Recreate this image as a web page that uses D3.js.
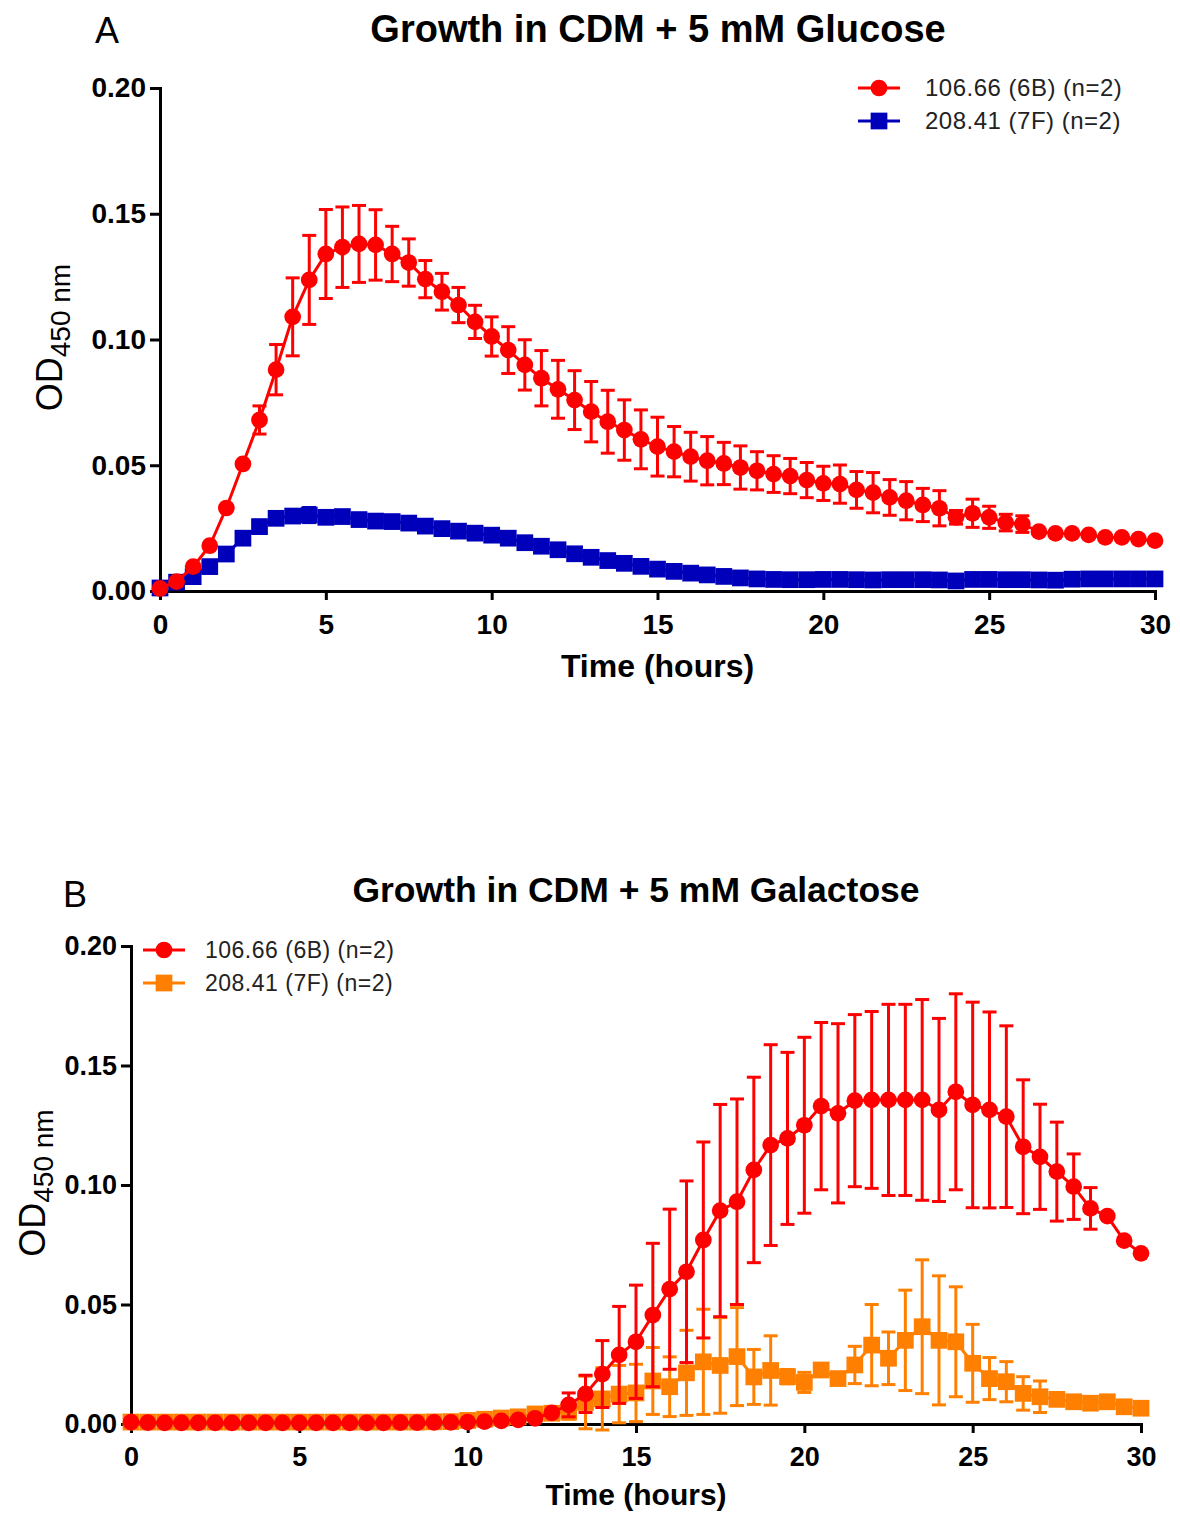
<!DOCTYPE html>
<html>
<head>
<meta charset="utf-8">
<script src="https://cdn.jsdelivr.net/npm/d3@7"></script>
<style>
  body { margin: 0; background: #fff; }
  text { font-family: "Liberation Sans", Arial, sans-serif; }
  .axis text { font-weight: bold; fill: #000; }
  .axis path, .axis line { stroke: #000; stroke-width: 3; }
</style>
</head>
<body>
<script>
// sampling times (hours)
const hours = [0,0.5,1,1.5,2,2.5,3,3.5,4,4.5,5,5.5,6,6.5,7,7.5,8,8.5,9,9.5,
  10,10.5,11,11.5,12,12.5,13,13.5,14,14.5,15,15.5,16,16.5,17,17.5,18,18.5,19,19.5,
  20,20.5,21,21.5,22,22.5,23,23.5,24,24.5,25,25.5,26,26.5,27,27.5,28,28.5,29,29.5,30];

const xTicks = [0,5,10,15,20,25,30];
const yTicks = [0,0.05,0.10,0.15,0.20];

const seriesNames = ["106.66 (6B) (n=2)", "208.41 (7F) (n=2)"];

// Panel A - glucose
const glc6B = [0.001,0.0037,0.0097,0.018,0.033,0.0505,0.068,0.088,0.109,0.1237,
  0.134,0.1367,0.138,0.1376,0.134,0.1306,0.124,0.119,0.1137,0.107,
  0.1012,0.0958,0.0899,0.0846,0.0802,0.0759,0.0713,0.0673,0.064,0.0603,
  0.0574,0.0554,0.0534,0.0518,0.0507,0.0491,0.0478,0.0465,0.0457,0.0441,
  0.0428,0.0425,0.0402,0.0391,0.0372,0.0359,0.0342,0.0329,0.0293,0.0309,
  0.0293,0.0272,0.0266,0.0236,0.0229,0.0229,0.0223,0.0213,0.0213,0.0206,0.02];
const glc6Bsd = [0,0,0,0,0,0,0.0056,0.010,0.0155,0.0177,
  0.0177,0.016,0.0153,0.014,0.011,0.0094,0.0074,0.0073,0.007,0.0066,
  0.0078,0.0093,0.010,0.011,0.0115,0.0117,0.012,0.0125,0.012,0.0117,
  0.0117,0.010,0.0097,0.0096,0.0084,0.0086,0.0076,0.0073,0.007,0.007,
  0.0068,0.0076,0.0073,0.008,0.0071,0.0076,0.0066,0.007,0.0027,0.0056,
  0.0044,0.0033,0.0033,0,0,0,0,0,0,0,0];
const glc7F = [0.0012,0.0035,0.0057,0.0097,0.0147,0.021,0.0256,0.0289,0.0298,0.0302,
  0.0293,0.0296,0.0284,0.0278,0.0276,0.027,0.0258,0.0248,0.0238,0.023,
  0.0222,0.021,0.0192,0.0178,0.0164,0.0148,0.0134,0.0121,0.011,0.0098,
  0.0087,0.0078,0.0071,0.0064,0.0058,0.0052,0.0048,0.0046,0.0045,0.0045,
  0.0046,0.0046,0.0045,0.0044,0.0045,0.0045,0.0045,0.0044,0.004,0.0046,
  0.0046,0.0045,0.0045,0.0044,0.0043,0.0047,0.0048,0.0048,0.0048,0.0048,0.0048];
const glc7Fsd = [0,0,0,0,0,0,0.0025,0.002,0.002,0.003,
  0.002,0,0,0,0,0,0,0,0,0,
  0,0,0,0,0,0,0,0,0,0,
  0,0,0,0,0,0,0,0,0,0,
  0,0,0,0,0,0,0,0,0,0,
  0,0,0,0,0,0,0,0,0,0,0];

// Panel B - galactose
const gal6B = [0.0008,0.0006,0.0005,0.0005,0.0005,0.0005,0.0005,0.0005,0.0005,0.0005,
  0.0005,0.0005,0.0005,0.0005,0.0005,0.0005,0.0006,0.0006,0.0007,0.0007,
  0.0008,0.001,0.0013,0.0017,0.0024,0.0047,0.008,0.0126,0.0209,0.0289,
  0.0344,0.0456,0.0564,0.0637,0.077,0.0893,0.093,0.1063,0.1167,0.1195,
  0.125,0.133,0.130,0.1353,0.1356,0.1356,0.1356,0.1356,0.1314,0.139,
  0.1335,0.1314,0.1286,0.116,0.1118,0.1056,0.0993,0.0902,0.087,0.0767,0.0714];
const gal6Bsd = [0,0,0,0,0,0,0,0,0,0,
  0,0,0,0,0,0,0,0,0,0,
  0,0,0,0,0,0,0.005,0.0078,0.014,0.0203,
  0.0237,0.030,0.0335,0.038,0.041,0.0444,0.043,0.0388,0.042,0.036,
  0.0368,0.035,0.0375,0.036,0.037,0.040,0.040,0.042,0.0383,0.041,
  0.043,0.041,0.038,0.028,0.022,0.0207,0.0137,0.0087,0,0,0];
const gal7F = [0.0008,0.0008,0.0008,0.0008,0.0008,0.0008,0.0008,0.0008,0.0008,0.0008,
  0.0008,0.0008,0.0008,0.0008,0.0008,0.0008,0.0008,0.0008,0.0009,0.001,
  0.0015,0.002,0.0025,0.003,0.0042,0.0045,0.005,0.009,0.0105,0.0125,
  0.013,0.018,0.0156,0.0214,0.026,0.0245,0.0282,0.0197,0.0224,0.0198,
  0.0174,0.0226,0.019,0.0247,0.033,0.0275,0.035,0.0407,0.035,0.0344,
  0.0254,0.019,0.0177,0.0128,0.0114,0.0103,0.0093,0.0087,0.0093,0.0072,0.0066];
const gal7Fsd = [0,0,0,0,0,0,0,0,0,0,
  0,0,0,0,0,0,0,0,0,0,
  0,0,0,0,0,0,0.003,0.011,0.013,0.012,
  0.012,0.014,0.0125,0.0178,0.022,0.02,0.0205,0.0115,0.0145,0.003,
  0.0042,0,0.002,0.0078,0.017,0.011,0.021,0.028,0.027,0.023,
  0.0163,0.0088,0.0084,0.007,0.0066,0,0,0,0,0,0];

let svg = null;

appendSvg("body");

drawPanel({
  letter: "A", letterX: 95, letterY: 43,
  title: "Growth in CDM + 5 mM Glucose", titleSize: 38, titleX: 658, titleY: 42,
  left: 160, right: 1155, top: 88, bottom: 591,
  tickSize: 28, labelSize: 32, labelY: 677, ylabX: 62,
  legendX: 858, legendY: 88, legendText: 925, legendSize: 24,
  series: [
    {mean: glc6B, sd: glc6Bsd, color: "#ff0000", shape: "circle"},
    {mean: glc7F, sd: glc7Fsd, color: "#0000bb", shape: "square"}
  ]
});

drawPanel({
  letter: "B", letterX: 63, letterY: 907,
  title: "Growth in CDM + 5 mM Galactose", titleSize: 35.5, titleX: 636, titleY: 902,
  left: 131, right: 1141, top: 946, bottom: 1424,
  tickSize: 27, labelSize: 30, labelY: 1505, ylabX: 45,
  legendX: 143, legendY: 950, legendText: 205, legendSize: 23,
  series: [
    {mean: gal6B, sd: gal6Bsd, color: "#ff0000", shape: "circle"},
    {mean: gal7F, sd: gal7Fsd, color: "#ff8000", shape: "square"}
  ]
});

function appendSvg(domElement) {
  svg = d3.select(domElement).append("svg")
    .attr("width", 1180)
    .attr("height", 1513);
}

function markerPath(shape) {
  if (shape == "circle") return d3.symbol(d3.symbolCircle, 220)();
  return d3.symbol(d3.symbolSquare, 280)();
}

function drawPanel(p) {
  let g = svg.append("g");

  let x = d3.scaleLinear().domain([0, 30]).range([p.left, p.right]);
  let y = d3.scaleLinear().domain([0, 0.2]).range([p.bottom, p.top]);

  // axes
  g.append("g")
    .attr("class", "axis")
    .attr("transform", `translate(0, ${p.bottom})`)
    .call(d3.axisBottom(x).tickValues(xTicks).tickSize(9).tickSizeOuter(0).tickPadding(14))
    .selectAll("text").style("font-size", p.tickSize + "px");

  g.append("g")
    .attr("class", "axis")
    .attr("transform", `translate(${p.left}, 0)`)
    .call(d3.axisLeft(y).tickValues(yTicks).tickFormat(d3.format(".2f"))
      .tickSize(10).tickSizeOuter(0).tickPadding(4))
    .selectAll("text").style("font-size", p.tickSize + "px");

  g.selectAll(".axis .domain").attr("stroke-linecap", "square");

  // series, second one first so the red sits on top
  p.series.slice().reverse().forEach(function (s) {
    let pts = hours.map((h, i) => ({h: h, m: s.mean[i], sd: s.sd[i]}));
    let bars = pts.filter(d => d.sd > 0);
    let eb = g.append("g").attr("stroke", s.color).attr("stroke-width", 3).attr("fill", "none");

    eb.selectAll(".stem").data(bars).enter().append("line")
      .attr("x1", d => x(d.h)).attr("x2", d => x(d.h))
      .attr("y1", d => y(d.m - d.sd)).attr("y2", d => y(d.m + d.sd));
    eb.selectAll(".capTop").data(bars).enter().append("line")
      .attr("x1", d => x(d.h) - 7).attr("x2", d => x(d.h) + 7)
      .attr("y1", d => y(d.m + d.sd)).attr("y2", d => y(d.m + d.sd));
    eb.selectAll(".capBot").data(bars).enter().append("line")
      .attr("x1", d => x(d.h) - 7).attr("x2", d => x(d.h) + 7)
      .attr("y1", d => y(d.m - d.sd)).attr("y2", d => y(d.m - d.sd));

    let line = d3.line().x(d => x(d.h)).y(d => y(d.m));
    g.append("path").datum(pts)
      .attr("d", line)
      .attr("fill", "none")
      .attr("stroke", s.color)
      .attr("stroke-width", 3);

    g.append("g").selectAll("path").data(pts).enter().append("path")
      .attr("d", markerPath(s.shape))
      .attr("transform", d => `translate(${x(d.h)}, ${y(d.m)})`)
      .attr("fill", s.color);
  });

  // legend
  p.series.forEach(function (s, i) {
    let ly = p.legendY + i * 33;
    g.append("line")
      .attr("x1", p.legendX).attr("x2", p.legendX + 42)
      .attr("y1", ly).attr("y2", ly)
      .attr("stroke", s.color).attr("stroke-width", 3);
    g.append("path")
      .attr("d", markerPath(s.shape))
      .attr("transform", `translate(${p.legendX + 21}, ${ly})`)
      .attr("fill", s.color);
    g.append("text")
      .attr("x", p.legendText).attr("y", ly + 8)
      .style("font-size", p.legendSize + "px")
      .style("letter-spacing", "0.5px")
      .style("fill", "#222")
      .text(seriesNames[i]);
  });

  // titles and labels
  g.append("text")
    .attr("x", p.letterX).attr("y", p.letterY)
    .style("font-size", "36px")
    .text(p.letter);

  g.append("text")
    .attr("x", p.titleX).attr("y", p.titleY)
    .style("text-anchor", "middle")
    .style("font-weight", "bold")
    .style("font-size", p.titleSize + "px")
    .text(p.title);

  g.append("text")
    .attr("x", (p.left + p.right) / 2).attr("y", p.labelY)
    .style("text-anchor", "middle")
    .style("font-weight", "bold")
    .style("font-size", p.labelSize + "px")
    .text("Time (hours)");

  let yl = g.append("text")
    .attr("transform", `translate(${p.ylabX}, ${(p.top + p.bottom) / 2 - 2}) rotate(-90)`)
    .style("text-anchor", "middle");
  yl.append("tspan").style("font-size", "36px").text("OD");
  yl.append("tspan").attr("dy", 8).style("font-size", "28px").text("450 nm");
}
</script>
</body>
</html>
